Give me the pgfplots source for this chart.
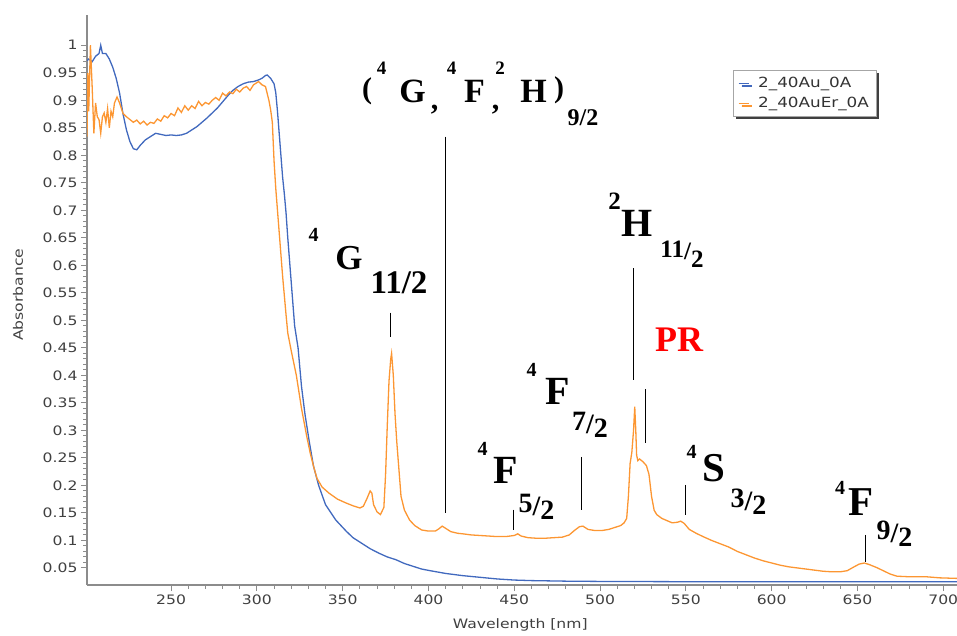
\documentclass[border=0pt]{standalone}
\usepackage{fontspec}
\usepackage{pgfplots}
\pgfplotsset{compat=1.18}
\usetikzlibrary{shadows}
\newfontfamily\ui[FakeStretch=1.2]{DejaVu Sans}
\newfontfamily\tnr{Liberation Serif}
\definecolor{aublue}{RGB}{65,105,190}
\definecolor{erorange}{RGB}{252,150,50}
\definecolor{axgray}{RGB}{140,140,140}
\newcommand{\lab}[4]{\node[inner sep=0pt,anchor=center,font=\tnr\bfseries\fontsize{#3}{#3}\selectfont] at (#1pt,#2pt) {#4};}
\newcommand{\frc}[2]{\raisebox{0.12em}{#1}/\raisebox{-0.14em}{#2}}
\begin{document}
\begin{tikzpicture}
\useasboundingbox (0,0) rectangle (957pt,635pt);
\begin{axis}[
  at={(87pt,50pt)}, anchor=south west,
  scale only axis, width=870pt, height=570pt,
  xmin=201, xmax=708, ymin=0.019, ymax=1.055,
  axis x line*=bottom, axis y line*=left,
  axis line style={draw=axgray, line width=1.2pt, -},
  tick align=outside,
  xtick={250,300,350,400,450,500,550,600,650,700},
  ytick={0.05,0.1,0.15,0.2,0.25,0.3,0.35,0.4,0.45,0.5,0.55,0.6,0.65,0.7,0.75,0.8,0.85,0.9,0.95,1},
  minor x tick num=4, minor y tick num=4,
  major tick length=6pt, minor tick length=3.5pt,
  tick style={draw=axgray, line width=0.9pt},
  /pgf/number format/assume math mode=true,
  ticklabel style={font=\ui\fontsize{13}{15}\selectfont, text=black!75},
  yticklabel style={/pgf/number format/.cd, fixed, precision=2},
  xticklabel style={/pgf/number format/.cd, fixed, precision=0, 1000 sep={}},
  xlabel={Wavelength [nm]}, ylabel={Absorbance},
  label style={font=\ui\fontsize{13}{15}\selectfont, text=black!75},
  xlabel style={at={(axis description cs:0.498,0)}, anchor=center, yshift=-40pt},
  ylabel style={at={(axis description cs:-0.0793,0.509)}, anchor=center},
  legend style={at={(axis description cs:0.7425,0.9035)}, anchor=north west,
    draw=gray!70, fill=white, font=\ui\fontsize{14}{15}\selectfont,
    inner xsep=5pt, inner ysep=5pt, row sep=4pt, text=black!80,
    /tikz/every odd column/.append style={column sep=7pt},
    drop shadow={shadow xshift=3pt, shadow yshift=-3pt, fill=black!75, opacity=1}},
  legend cell align=left,
  legend image code/.code={\draw[#1, line width=1pt] (0pt,0pt) -- (10pt,0pt);},
]
\addplot[aublue, line width=1.3pt] coordinates {
(201,0.972) (202,0.975) (204,0.97) (206,0.98) (208,0.985) (209,1.0) (210,0.985)
(212,0.985) (214,0.975) (216,0.96) (218,0.94) (220,0.913) (222,0.875) (224,0.846)
(226,0.825) (228,0.812) (230,0.81) (232,0.818) (235,0.828) (238,0.834) (241,0.84)
(244,0.838) (247,0.836) (250,0.837) (253,0.836) (256,0.837) (259,0.84) (262,0.846)
(265,0.852) (268,0.86) (271,0.868) (274,0.877) (277,0.886) (280,0.897) (283,0.908)
(286,0.918) (289,0.925) (292,0.93) (295,0.933) (298,0.934) (301,0.937) (303,0.94)
(305,0.945) (306,0.946) (308,0.94) (310,0.93) (311,0.914) (312,0.88) (313,0.84)
(314,0.80) (315,0.76) (316,0.73) (317,0.695) (318,0.65) (319,0.61) (320,0.57)
(321,0.53) (322,0.49) (324,0.45) (326,0.38) (328,0.33) (330.5,0.28) (333,0.235)
(336,0.20) (340,0.165) (346,0.137) (352,0.117) (356,0.105) (361,0.095) (366,0.085)
(371,0.077) (376,0.070) (381,0.065) (386,0.058) (391,0.053) (396,0.048) (401,0.045)
(410,0.040) (420,0.036) (430,0.033) (440,0.030) (450,0.028) (460,0.027) (480,0.026)
(500,0.0255) (550,0.025) (600,0.025) (650,0.025) (700,0.025) (708,0.025)
};
\addlegendentry{2\_40Au\_0A}
\addplot[erorange, line width=1.3pt] coordinates {
(201,0.834) (201.5,0.95) (202,0.88) (203,1.0) (204,0.925) (205,0.84) (206,0.895)
(207,0.87) (208,0.865) (209,0.84) (210,0.87) (211,0.877) (212,0.86) (213,0.885)
(214,0.85) (215,0.88) (216,0.87) (217,0.895) (218.5,0.906) (220,0.895) (222,0.876)
(224,0.87) (226,0.865) (228,0.86) (230,0.864) (232,0.857) (234,0.862) (236,0.855)
(238,0.86) (240,0.858) (242,0.866) (244,0.862) (246,0.872) (248,0.868) (250,0.876)
(252,0.872) (254,0.886) (256,0.878) (258,0.89) (260,0.882) (262,0.89) (264,0.885)
(266,0.898) (268,0.89) (270,0.896) (272,0.893) (274,0.9) (276,0.905) (278,0.9)
(280,0.913) (282,0.908) (284,0.915) (286,0.912) (288,0.92) (290,0.915) (292,0.922)
(294,0.925) (296,0.918) (298,0.928) (300,0.932) (301,0.934) (303,0.928) (305,0.925)
(307,0.9) (308,0.883) (309,0.86) (310,0.79) (311,0.74) (312,0.70) (313,0.66)
(314,0.62) (315,0.58) (316,0.545) (317,0.51) (318,0.477) (320,0.445) (323,0.40)
(326,0.34) (329,0.29) (331,0.26) (333,0.235) (335,0.213) (338,0.197) (342,0.186)
(347,0.175) (352,0.168) (356,0.163) (360,0.159) (362,0.162) (364,0.175) (366,0.19)
(367,0.186) (368,0.165) (370,0.152) (372,0.147) (374,0.16) (375,0.22) (376,0.31)
(377,0.39) (378,0.43) (378.5,0.44) (379.5,0.40) (380.5,0.33) (381.5,0.28)
(382.5,0.24) (384,0.18) (386,0.155) (389,0.137) (392,0.127) (396,0.119) (400,0.117)
(404,0.117) (406,0.121) (408,0.126) (410,0.122) (413,0.116) (417,0.113) (420,0.112)
(425,0.11) (430,0.109) (435,0.108) (440,0.107) (445,0.107) (450,0.109) (452,0.112)
(454,0.108) (458,0.105) (463,0.104) (468,0.104) (473,0.105) (478,0.106) (482,0.11)
(485,0.118) (488,0.125) (490,0.126) (493,0.12) (497,0.118) (501,0.118) (505,0.12)
(509,0.124) (512,0.127) (514,0.132) (515.5,0.14) (516.5,0.18) (517.5,0.24)
(518.5,0.26) (519.5,0.3) (520.2,0.343) (520.8,0.3) (521.3,0.255) (522,0.245)
(523,0.248) (525,0.243) (527,0.236) (528.5,0.22) (530,0.18) (531.5,0.155)
(533,0.147) (536,0.14) (539,0.136) (542,0.132) (545,0.133) (547,0.135) (549,0.131)
(552,0.12) (556,0.113) (560,0.107) (565,0.1) (570,0.094) (575,0.088) (580,0.08)
(585,0.074) (590,0.068) (595,0.063) (600,0.059) (605,0.055) (610,0.052) (615,0.05)
(620,0.048) (625,0.046) (630,0.044) (635,0.043) (640,0.043) (644,0.045) (648,0.052)
(651,0.057) (654,0.059) (657,0.056) (661,0.051) (665,0.045) (669,0.039) (673,0.035)
(680,0.034) (690,0.034) (698,0.032) (708,0.031)
};
\addlegendentry{2\_40AuEr\_0A}
\draw[black, line width=1.2pt] (axis cs:377.8,0.514) -- (axis cs:377.8,0.470);
\draw[black, line width=1.4pt] (axis cs:409.9,0.834) -- (axis cs:409.9,0.150);
\draw[black, line width=1.2pt] (axis cs:449.5,0.156) -- (axis cs:449.5,0.119);
\draw[black, line width=1.4pt] (axis cs:489.2,0.252) -- (axis cs:489.2,0.156);
\draw[black, line width=1.4pt] (axis cs:519.5,0.595) -- (axis cs:519.5,0.392);
\draw[black, line width=1.4pt] (axis cs:526.5,0.375) -- (axis cs:526.5,0.277);
\draw[black, line width=1.2pt] (axis cs:549.9,0.201) -- (axis cs:549.9,0.146);
\draw[black, line width=1.2pt] (axis cs:654.9,0.110) -- (axis cs:654.9,0.061);
\end{axis}
% 4G 11/2
\lab{313.5}{400}{20}{4}
\lab{349}{377}{35}{G}
\lab{399}{352}{33}{11/2}
% (4G,4F,2H) 9/2
\lab{367}{543.5}{30}{(}
\lab{381.5}{566.5}{19}{4}
\lab{412.5}{544}{34}{G}
\lab{434.5}{525}{30}{,}
\lab{451.5}{566.5}{19}{4}
\lab{474.5}{544}{34}{F}
\lab{495.5}{525}{30}{,}
\lab{500}{566.5}{19}{2}
\lab{533.5}{544}{34}{H}
\lab{559}{545}{30}{)}
\lab{583}{517.5}{24}{9/2}
% 4F 5/2
\lab{482.5}{186.5}{20}{4}
\lab{506}{165}{40}{F}
\lab{536.5}{128}{28}{\frc{5}{2}}
% 4F 7/2
\lab{531.5}{265}{20}{4}
\lab{558}{243.5}{40}{F}
\lab{590}{210}{28}{\frc{7}{2}}
% 2H 11/2
\lab{614.5}{434}{25}{2}
\lab{637.5}{411.5}{40}{H}
\lab{682}{381}{25}{11\raisebox{-0.1em}{/}\raisebox{-0.4em}{2}}
% PR
\node[inner sep=0pt, text=red, font=\tnr\bfseries\fontsize{36}{36}\selectfont] at (679pt,295pt) {PR};
% 4S 3/2
\lab{691.5}{183.5}{20}{4}
\lab{713.5}{167}{41}{S}
\lab{748.5}{133.5}{28}{\frc{3}{2}}
% 4F 9/2
\lab{840}{147.5}{20}{4}
\lab{861}{132.5}{41}{F}
\lab{894.5}{101}{28}{\frc{9}{2}}
\end{tikzpicture}
\end{document}
